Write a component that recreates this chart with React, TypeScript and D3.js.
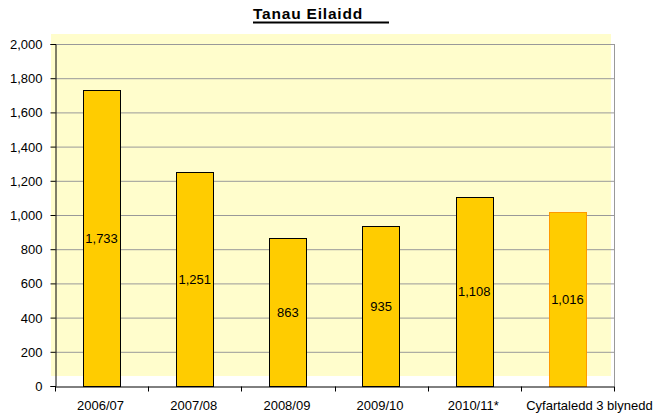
import React, { useEffect, useRef } from "react";
import * as d3 from "d3";

const categories = ["2006/07", "2007/08", "2008/09", "2009/10", "2010/11*", "Cyfartaledd 3 blynedd"];
const values = [1733, 1251, 863, 935, 1108, 1016];
const yTicks = [0, 200, 400, 600, 800, 1000, 1200, 1400, 1600, 1800, 2000];
const title = "Tanau Eilaidd";

const App = () => {
  const svgRef = useRef<SVGSVGElement>(null);

  useEffect(() => {
    const svg = d3.select(svgRef.current);
    svg.selectAll("*").remove();

    const left = 55;
    const right = 614;
    const top = 44;
    const bottom = 386;
    const font = "Liberation Sans, Arial, sans-serif";

    const x = d3.scaleBand().domain(categories).range([left, right]).paddingInner(0.6).paddingOuter(0.3);
    const xb = d3.scaleBand().domain(categories).range([left, right]);
    const y = d3.scaleLinear().domain([0, 2000]).range([bottom, top]);

    // background band (offset like the original picture)
    svg.append("rect")
      .attr("x", 51).attr("y", 34)
      .attr("width", 611 - 51).attr("height", 376 - 34)
      .attr("fill", "#FFFDCC");

    // gridlines
    svg.append("g")
      .selectAll("line")
      .data(yTicks.filter((d) => d > 0))
      .join("line")
      .attr("x1", left).attr("x2", right)
      .attr("y1", (d) => y(d) + 0.5).attr("y2", (d) => y(d) + 0.5)
      .attr("stroke", "#999999")
      .attr("stroke-width", 1);

    // right border
    svg.append("line")
      .attr("x1", right + 0.5).attr("x2", right + 0.5)
      .attr("y1", top).attr("y2", bottom)
      .attr("stroke", "#999999");

    // bars
    svg.append("g")
      .selectAll("rect")
      .data(values)
      .join("rect")
      .attr("x", (d, i) => Math.round(x(categories[i])!) + 0.5)
      .attr("y", (d) => Math.round(y(d)) + 0.5)
      .attr("width", Math.round(x.bandwidth()))
      .attr("height", (d) => bottom - Math.round(y(d)))
      .attr("fill", "#FFCC00")
      .attr("stroke", (d, i) => (i === values.length - 1 ? "#FF9900" : "#000000"))
      .attr("stroke-width", 1);

    // value labels
    svg.append("g")
      .selectAll("text")
      .data(values)
      .join("text")
      .attr("x", (d, i) => x(categories[i])! + x.bandwidth() / 2)
      .attr("y", (d) => (y(d) + bottom) / 2 + 5)
      .attr("text-anchor", "middle")
      .attr("font-family", font)
      .attr("font-size", 13)
      .attr("fill", "#000")
      .text((d) => d3.format(",")(d));

    // y axis
    const yAxis = d3.axisLeft(y).tickValues(yTicks).tickSize(5).tickFormat(d3.format(","));
    const gy = svg.append("g").attr("transform", `translate(${left + 0.5},0)`).call(yAxis);
    gy.selectAll("text").attr("font-family", font).attr("font-size", 13).attr("x", -13).attr("dy", "0.35em");
    gy.select(".domain").attr("stroke", "#000");

    // x axis
    const xAxis = d3.axisBottom(xb).tickSize(0).tickSizeOuter(0);
    const gx = svg.append("g").attr("transform", `translate(0,${bottom + 0.5})`).call(xAxis);
    gx.selectAll(".tick line").remove();
    gx.selectAll("text")
      .attr("font-family", font).attr("font-size", 13).attr("y", 19).attr("dy", "0.35em")
      .attr("dx", (d) => (d === categories[categories.length - 1] ? 22 : -1));
    gx.select(".domain").attr("stroke", "#000");
    gx.append("g")
      .selectAll("line")
      .data(categories.map((c) => xb(c)!).concat([right]))
      .join("line")
      .attr("x1", (d) => Math.round(d) + 0.5).attr("x2", (d) => Math.round(d) + 0.5)
      .attr("y1", 0).attr("y2", 5)
      .attr("stroke", "#000");

    // title
    svg.append("text")
      .attr("x", 253).attr("y", 19)
      .attr("font-family", font)
      .attr("font-size", 15.5)
      .attr("letter-spacing", 0.8)
      .attr("font-weight", "bold")
      .text(title);
    svg.append("line")
      .attr("x1", 253).attr("x2", 389)
      .attr("y1", 22.5).attr("y2", 22.5)
      .attr("stroke", "#000").attr("stroke-width", 2);
  }, []);

  return (
    <svg ref={svgRef} width={656} height={415} style={{ position: "absolute", left: 0, top: 0, background: "#fff" }} />
  );
};

export default App;
